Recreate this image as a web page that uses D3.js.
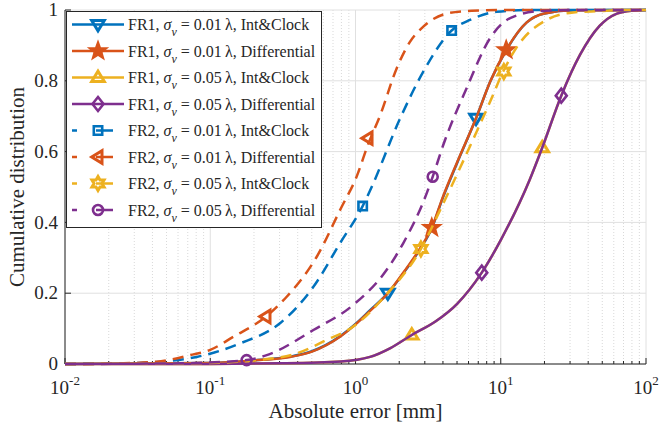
<!DOCTYPE html>
<html>
<head>
<meta charset="utf-8">
<script src="https://cdn.jsdelivr.net/npm/d3@7"></script>
<style>
  body { margin: 0; background: #fff; }
  svg { display: block; font-family: "Liberation Serif", "Times New Roman", serif; }
</style>
</head>
<body>
<div id="chart"></div>
<script>
// ---- data (x in mm, y = cumulative probability) ----
const fr1IntClock001 = [[0.01,0],[0.1,0.003],[0.2,0.01],[0.355,0.021],[0.501,0.036],[0.782,0.078],[1,0.113],[1.26,0.152],[1.67,0.2],[2.24,0.268],[2.82,0.328],[3.35,0.383],[3.98,0.468],[5.01,0.568],[6.76,0.694],[8.51,0.8],[10.9,0.886],[15.1,0.965],[20,0.99],[31.6,0.999],[100,1]];
const fr1Diff001 = [[0.01,0],[0.1,0.003],[0.2,0.01],[0.355,0.02],[0.501,0.035],[0.782,0.077],[1,0.112],[1.26,0.15],[1.67,0.2],[2.24,0.27],[2.82,0.33],[3.35,0.385],[3.98,0.47],[5.01,0.57],[6.76,0.694],[8.51,0.8],[10.9,0.887],[15.1,0.965],[20,0.99],[31.6,0.999],[100,1]];
const fr1IntClock005 = [[0.01,0],[0.1,0.0003],[0.316,0.002],[0.794,0.007],[1.26,0.02],[1.74,0.045],[2.44,0.082],[3.55,0.12],[5.01,0.17],[7.4,0.258],[10,0.35],[15.8,0.52],[19.3,0.611],[26.1,0.758],[35.1,0.873],[47.9,0.955],[63.1,0.99],[79.4,0.998],[100,1]];
const fr1Diff005 = [[0.01,0],[0.1,0.0003],[0.316,0.002],[0.794,0.007],[1.26,0.02],[1.74,0.045],[2.44,0.082],[3.55,0.12],[5.01,0.17],[7.4,0.258],[10,0.35],[15.8,0.52],[19.3,0.611],[26.1,0.758],[35.1,0.873],[47.9,0.955],[63.1,0.99],[79.4,0.998],[100,1]];
const fr2IntClock001 = [[0.01,0],[0.0316,0.003],[0.0807,0.02],[0.16,0.058],[0.302,0.115],[0.513,0.218],[0.782,0.341],[1.12,0.446],[1.26,0.49],[2.03,0.694],[2.93,0.826],[4.59,0.942],[6.14,0.972],[9.38,0.995],[15.8,1],[100,1]];
const fr2Diff001 = [[0.01,0],[0.0251,0.002],[0.0427,0.0065],[0.0724,0.025],[0.1,0.04],[0.1445,0.077],[0.242,0.134],[0.336,0.19],[0.541,0.303],[0.794,0.44],[1.02,0.53],[1.22,0.62],[1.48,0.703],[1.92,0.835],[2.37,0.91],[2.93,0.953],[4.25,0.99],[6.31,0.998],[10,1],[100,1]];
const fr2IntClock005 = [[0.01,0],[0.1,0.003],[0.2,0.01],[0.394,0.03],[0.634,0.068],[1,0.11],[1.58,0.19],[2.82,0.325],[3.98,0.45],[6.82,0.656],[8.43,0.74],[10.5,0.83],[12.9,0.895],[20.7,0.972],[31.6,0.993],[47.9,0.997],[70.8,1],[100,1]];
const fr2Diff005 = [[0.01,0],[0.0631,0.002],[0.178,0.011],[0.245,0.025],[0.513,0.096],[0.966,0.167],[1.64,0.266],[2.13,0.341],[3.09,0.482],[3.4,0.529],[4.03,0.62],[5.82,0.779],[8.43,0.92],[11.6,0.977],[18.6,0.997],[31.6,1],[100,1]];

// marker positions
const mkFr1IntClock001 = [[1.67,0.2],[6.76,0.694]];
const mkFr1Diff001 = [[3.35,0.385],[10.9,0.887]];
const mkFr1IntClock005 = [[2.44,0.082],[19.3,0.611]];
const mkFr1Diff005 = [[7.4,0.258],[26.1,0.758]];
const mkFr2IntClock001 = [[1.12,0.446],[4.59,0.942]];
const mkFr2Diff001 = [[0.242,0.134],[1.22,0.638]];
const mkFr2IntClock005 = [[2.82,0.325],[10.5,0.826]];
const mkFr2Diff005 = [[0.178,0.011],[3.4,0.529]];

const xTicks = [0.01, 0.1, 1, 10, 100];
const xTickExp = ["-2", "-1", "0", "1", "2"];
const yTicks = [0, 0.2, 0.4, 0.6, 0.8, 1];

const series = [
  {fr: "FR1", sig: "0.01", kind: "Int&Clock",    color: "#0072BD", dash: false, marker: "tridown", data: fr1IntClock001, mk: mkFr1IntClock001},
  {fr: "FR1", sig: "0.01", kind: "Differential", color: "#D95319", dash: false, marker: "star",    data: fr1Diff001,     mk: mkFr1Diff001},
  {fr: "FR1", sig: "0.05", kind: "Int&Clock",    color: "#EDB120", dash: false, marker: "triup",   data: fr1IntClock005, mk: mkFr1IntClock005},
  {fr: "FR1", sig: "0.05", kind: "Differential", color: "#7E2F8E", dash: false, marker: "diamond", data: fr1Diff005,     mk: mkFr1Diff005},
  {fr: "FR2", sig: "0.01", kind: "Int&Clock",    color: "#0072BD", dash: true,  marker: "square",  data: fr2IntClock001, mk: mkFr2IntClock001},
  {fr: "FR2", sig: "0.01", kind: "Differential", color: "#D95319", dash: true,  marker: "trileft", data: fr2Diff001,     mk: mkFr2Diff001},
  {fr: "FR2", sig: "0.05", kind: "Int&Clock",    color: "#EDB120", dash: true,  marker: "hexagram",data: fr2IntClock005, mk: mkFr2IntClock005},
  {fr: "FR2", sig: "0.05", kind: "Differential", color: "#7E2F8E", dash: true,  marker: "circle",  data: fr2Diff005,     mk: mkFr2Diff005}
];

// ---- layout ----
const W = 659, H = 430;
const pL = 65, pR = 646, pT = 10, pB = 364;

const x = d3.scaleLog().domain([0.01, 100]).range([pL, pR]);
const y = d3.scaleLinear().domain([0, 1]).range([pB, pT]);

const svg = d3.select("#chart").append("svg")
  .attr("width", W).attr("height", H);

// minor x grid (dotted)
const minor = [];
for (let d = -2; d < 2; d++) for (let k = 2; k <= 9; k++) minor.push(k * Math.pow(10, d));

svg.append("g").selectAll("line").data(minor).join("line")
  .attr("x1", d => x(d)).attr("x2", d => x(d))
  .attr("y1", pT).attr("y2", pB)
  .attr("stroke", "#cfcfcf").attr("stroke-width", 0.8)
  .attr("stroke-dasharray", "1,2");

// major grid
svg.append("g").selectAll("line").data(xTicks).join("line")
  .attr("x1", d => x(d)).attr("x2", d => x(d))
  .attr("y1", pT).attr("y2", pB)
  .attr("stroke", "#e0e0e0").attr("stroke-width", 1);
svg.append("g").selectAll("line").data(yTicks).join("line")
  .attr("x1", pL).attr("x2", pR)
  .attr("y1", d => y(d)).attr("y2", d => y(d))
  .attr("stroke", "#e0e0e0").attr("stroke-width", 1);

// axes (drawn under the data)
const axisCol = "#262626";
svg.append("line").attr("x1", pL).attr("x2", pR).attr("y1", pB).attr("y2", pB)
  .attr("stroke", axisCol).attr("stroke-width", 1);
svg.append("line").attr("x1", pL).attr("x2", pL).attr("y1", pT).attr("y2", pB)
  .attr("stroke", axisCol).attr("stroke-width", 1);

svg.append("g").selectAll("line").data(xTicks).join("line")
  .attr("x1", d => x(d)).attr("x2", d => x(d))
  .attr("y1", pB).attr("y2", pB - 6)
  .attr("stroke", axisCol);
svg.append("g").selectAll("line").data(minor).join("line")
  .attr("x1", d => x(d)).attr("x2", d => x(d))
  .attr("y1", pB).attr("y2", pB - 3)
  .attr("stroke", axisCol);
svg.append("g").selectAll("line").data(yTicks).join("line")
  .attr("x1", pL).attr("x2", pL + 6)
  .attr("y1", d => y(d)).attr("y2", d => y(d))
  .attr("stroke", axisCol);

// tick labels
const xl = svg.append("g").selectAll("text").data(xTicks).join("text")
  .attr("x", d => x(d)).attr("y", pB + 30)
  .attr("text-anchor", "middle")
  .attr("font-size", 19).attr("fill", axisCol);
xl.append("tspan").text("10");
xl.append("tspan").attr("dy", -9).attr("font-size", 13).text((d, i) => xTickExp[i]);

svg.append("g").selectAll("text").data(yTicks).join("text")
  .attr("x", pL - 7).attr("y", d => y(d)).attr("dy", "0.33em")
  .attr("text-anchor", "end")
  .attr("font-size", 19).attr("fill", axisCol)
  .text(d => d3.format("~g")(d));

// axis titles
svg.append("text").attr("x", (pL + pR) / 2).attr("y", 418)
  .attr("text-anchor", "middle").attr("font-size", 21).attr("fill", axisCol)
  .text("Absolute error [mm]");
svg.append("text").attr("transform", `translate(24,${(pT + pB) / 2}) rotate(-90)`)
  .attr("text-anchor", "middle").attr("font-size", 21).attr("fill", axisCol)
  .text("Cumulative distribution");

// ---- markers ----
function poly(pts) { return "M" + pts.map(p => p[0].toFixed(2) + "," + p[1].toFixed(2)).join("L") + "Z"; }
function starPts(n, R, r, rot) {
  const pts = [];
  for (let i = 0; i < 2 * n; i++) {
    const a = rot + i * Math.PI / n;
    const rr = i % 2 === 0 ? R : r;
    pts.push([rr * Math.cos(a), rr * Math.sin(a)]);
  }
  return pts;
}
function markerPath(type) {
  const up = -Math.PI / 2;
  switch (type) {
    case "tridown": return poly([[-6.3, -4], [6.3, -4], [0, 6.3]]);
    case "triup":   return poly([[-6.3, 4], [6.3, 4], [0, -6.3]]);
    case "trileft": return poly([[4, -6.3], [4, 6.3], [-6.3, 0]]);
    case "square":  return poly([[-4.2, -4.2], [4.2, -4.2], [4.2, 4.2], [-4.2, 4.2]]);
    case "diamond": return poly([[0, -7], [5.5, 0], [0, 7], [-5.5, 0]]);
    case "star":    return poly(starPts(5, 8, 3.3, up));
    case "hexagram":return poly(starPts(6, 7, 4, up));
    case "circle":  return d3.arc()({innerRadius: 0, outerRadius: 5, startAngle: 0, endAngle: 2 * Math.PI});
  }
}
const markerFill = s => s.marker === "star" ? s.color : "none";
const markerWidth = s => (s.marker.startsWith("tri") || s.marker === "hexagram") ? 3 : 2.6;

// ---- curves ----
const line = d3.line()
  .x(d => x(d[0])).y(d => y(d[1]))
  .curve(d3.curveMonotoneX);

const plot = svg.append("g");
series.forEach(s => {
  plot.append("path").datum(s.data)
    .attr("d", line)
    .attr("fill", "none")
    .attr("stroke", s.color)
    .attr("stroke-width", 2.5)
    .attr("stroke-dasharray", s.dash ? "11,7" : null);
  plot.append("g").selectAll("path").data(s.mk).join("path")
    .attr("transform", d => `translate(${x(d[0])},${y(d[1])})`)
    .attr("d", markerPath(s.marker))
    .attr("fill", markerFill(s))
    .attr("stroke", s.color)
    .attr("stroke-width", markerWidth(s))
    .attr("stroke-linejoin", "miter");
});

// ---- legend ----
const lg = svg.append("g");
lg.append("rect").attr("x", 66.5).attr("y", 11.5).attr("width", 255).attr("height", 216)
  .attr("fill", "#fff").attr("stroke", axisCol).attr("stroke-width", 1);

const rowY = i => 24.5 + i * 26.5;
series.forEach((s, i) => {
  const ry = rowY(i);
  if (s.dash) {
    lg.append("line").attr("x1", 72).attr("x2", 113).attr("y1", ry).attr("y2", ry)
      .attr("stroke", s.color).attr("stroke-width", 2.5)
      .attr("stroke-dasharray", "5,19,100");
  } else {
    lg.append("line").attr("x1", 72).attr("x2", 124).attr("y1", ry).attr("y2", ry)
      .attr("stroke", s.color).attr("stroke-width", 2.5);
  }
  lg.append("path").attr("transform", `translate(98,${ry})`)
    .attr("d", markerPath(s.marker))
    .attr("fill", markerFill(s)).attr("stroke", s.color).attr("stroke-width", markerWidth(s));

  const t = lg.append("text").attr("x", 128).attr("y", ry + 5.5)
    .attr("font-size", 16).attr("fill", axisCol);
  t.append("tspan").text(s.fr + ", ");
  t.append("tspan").attr("font-style", "italic").text("σ");
  t.append("tspan").attr("font-style", "italic").attr("font-size", 12).attr("dy", 6).text("ν");
  t.append("tspan").attr("dy", -6).text(" = " + s.sig + "\u2009λ, " + s.kind);
});
</script>
</body>
</html>
